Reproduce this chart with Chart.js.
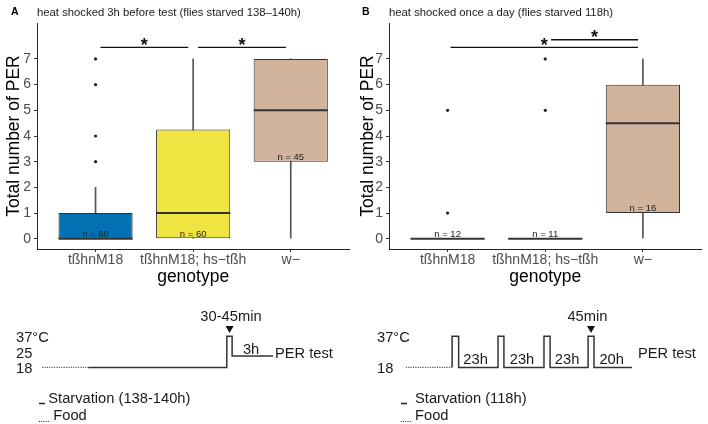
<!DOCTYPE html>
<html><head><meta charset="utf-8">
<script src="https://cdn.jsdelivr.net/npm/chart.js@4.4.1/dist/chart.umd.min.js"></script>
<style>
html,body{margin:0;padding:0;background:#fff;}
#wrap{position:relative;width:708px;height:424px;overflow:hidden;background:#fff;}
canvas{position:absolute;}
</style></head><body>
<div id="wrap">
<canvas id="boxA" width="354" height="290" style="left:0;top:0"></canvas>
<canvas id="boxB" width="354" height="290" style="left:354px;top:0"></canvas>
<canvas id="schA" width="354" height="134" style="left:0;top:290px"></canvas>
<canvas id="schB" width="354" height="134" style="left:354px;top:290px"></canvas>
</div>
<script>
const FONT = '"Liberation Sans", Arial, Helvetica, sans-serif';

// ---------- data ----------
const genotypes = ['tßhnM18', 'tßhnM18; hs\u2212tßh', 'w\u2212'];
const boxColors = ['#0072B2', '#F0E442', '#D2B49C'];
const yTicks = [0, 1, 2, 3, 4, 5, 6, 7];

// Panel A: heat shocked 3h before test
const aLower = [0, 0, 0];
const aQ1 = [0, 0, 3];
const aMedian = [0, 1, 5];
const aQ3 = [1, 4.25, 7];
const aUpper = [2, 7, 7];
const aOutliers = [[3, 4, 6, 7], [], []];
const aN = [60, 60, 45];
// significance brackets: [from, to, lineY, starY]
const aSig = [[1.05, 1.95, 7.45, 7.7], [2.05, 2.95, 7.45, 7.7]];

// Panel B: heat shocked once a day
const bLower = [0, 0, 0];
const bQ1 = [0, 0, 1];
const bMedian = [0, 0, 4.5];
const bQ3 = [0, 0, 6];
const bUpper = [0, 0, 7];
const bOutliers = [[1, 5], [5, 7], []];
const bN = [12, 11, 16];
const bSig = [[1.03, 2.95, 7.45, 7.72], [2.06, 2.95, 7.75, 8.02]];

// Schematics (schematic time units 0..100, temperature °C)
const schAFoodT = [0, 20];
const schAFoodC = [18, 18];
const schAStarvT = [20, 80, 80, 82.3, 82.3, 100];
const schAStarvC = [18, 18, 37, 37, 25, 25];
const schALevels = [18, 25, 37];

const schBFoodT = [0, 20.5];
const schBFoodC = [18, 18];
const schBStarvT = [20.5, 20.5, 23.4, 23.4, 40.8, 40.8, 43.4, 43.4, 61.1, 61.1, 63.8, 63.8, 80.6, 80.6, 83.2, 83.2, 100];
const schBStarvC = [18, 37, 37, 18, 18, 37, 37, 18, 18, 37, 37, 18, 18, 37, 37, 18, 18];
const schBLevels = [18, 37];

// ---------- box plots ----------
function boxChart(id, cfg) {
  const idx = [1, 2, 3];
  const whisk = idx.map((x, i) => ({x, y: [cfg.lower[i], cfg.upper[i]]}));
  const boxes = idx.map((x, i) => ({x, y: [cfg.q1[i], cfg.q3[i]]}));
  const outl = [];
  cfg.out.forEach((arr, i) => arr.forEach(v => outl.push({x: i + 1, y: v})));

  const extras = {
    id: 'boxExtras',
    afterDatasetsDraw(chart) {
      const {ctx} = chart;
      const x = chart.scales.x, y = chart.scales.y;
      const boxMeta = chart.getDatasetMeta(1);
      ctx.save();
      cfg.median.forEach((m, i) => {
        const el = boxMeta.data[i];
        const half = el.width / 2;
        const py = y.getPixelForValue(m);
        ctx.strokeStyle = '#333'; ctx.lineWidth = 2;
        ctx.beginPath(); ctx.moveTo(el.x - half, py); ctx.lineTo(el.x + half, py); ctx.stroke();
      });
      ctx.font = '9.5px ' + FONT; ctx.fillStyle = '#222';
      ctx.textAlign = 'center'; ctx.textBaseline = 'middle';
      cfg.n.forEach((n, i) => ctx.fillText('n = ' + n, x.getPixelForValue(i + 1), y.getPixelForValue(cfg.q1[i] + 0.18)));
      cfg.sig.forEach(s => {
        const [x0, x1, ly, sy] = s;
        ctx.strokeStyle = '#111'; ctx.lineWidth = 1.4;
        ctx.beginPath();
        ctx.moveTo(x.getPixelForValue(x0), y.getPixelForValue(ly));
        ctx.lineTo(x.getPixelForValue(x1), y.getPixelForValue(ly));
        ctx.stroke();
        ctx.font = 'bold 18px ' + FONT; ctx.fillStyle = '#111';
        ctx.textAlign = 'center'; ctx.textBaseline = 'alphabetic';
        ctx.fillText('*', x.getPixelForValue((x0 + x1) / 2), y.getPixelForValue(sy) + 0.57 * 18);
      });
      ctx.textAlign = 'left'; ctx.textBaseline = 'middle';
      ctx.fillStyle = '#000'; ctx.font = 'bold 10.5px ' + FONT;
      ctx.fillText(cfg.letter, cfg.letterX, 12.5);
      ctx.fillStyle = '#1a1a1a'; ctx.font = '11.3px ' + FONT;
      ctx.fillText(cfg.title, chart.chartArea.left, 12.5);
      ctx.restore();
    }
  };

  new Chart(document.getElementById(id), {
    type: 'bar',
    data: {
      datasets: [
        {data: whisk, backgroundColor: '#555', borderWidth: 0, barThickness: 1, grouped: false, order: 3},
        {data: boxes, backgroundColor: boxColors, borderColor: '#333', borderWidth: 1, borderSkipped: false,
         barPercentage: 0.76, categoryPercentage: 1, grouped: false, order: 2},
        {type: 'line', data: outl, showLine: false, pointRadius: 1.6, pointBackgroundColor: '#222',
         pointBorderWidth: 0, order: 1}
      ]
    },
    options: {
      responsive: false, animation: false, events: [],
      layout: {padding: {left: 0, right: cfg.padRight, top: 23, bottom: 0}},
      plugins: {legend: {display: false}, tooltip: {enabled: false}},
      scales: {
        x: {
          type: 'linear', min: 0.4, max: 3.6, offset: false,
          afterBuildTicks: s => { s.ticks = [1, 2, 3].map(v => ({value: v})); },
          ticks: {callback: v => genotypes[v - 1] || '', font: {family: FONT, size: 14}, color: '#4D4D4D',
                  padding: 0, maxRotation: 0, autoSkip: false},
          grid: {drawOnChartArea: false, drawTicks: true, tickLength: 3, color: '#333', offset: false},
          border: {display: true, color: '#222', width: 1},
          title: {display: true, text: 'genotype', font: {family: FONT, size: 17.5}, color: '#000',
                  padding: {top: 0, bottom: 2}},
          afterFit: s => { s.height = 41; }
        },
        y: {
          type: 'linear', min: -0.4, max: 8.4,
          afterBuildTicks: s => { s.ticks = yTicks.map(v => ({value: v})); },
          ticks: {font: {family: FONT, size: 14}, color: '#4D4D4D', padding: 3, autoSkip: false},
          grid: {drawOnChartArea: false, drawTicks: true, tickLength: 3, color: '#333'},
          border: {display: true, color: '#222', width: 1},
          title: {display: true, text: 'Total number of PER', font: {family: FONT, size: 17.5}, color: '#000',
                  padding: {top: 4, bottom: 0}},
          afterFit: s => { s.width = cfg.axisW; }
        }
      }
    },
    plugins: [extras]
  });
}

boxChart('boxA', {lower: aLower, q1: aQ1, median: aMedian, q3: aQ3, upper: aUpper, out: aOutliers, n: aN,
  sig: aSig, letter: 'A', letterX: 11, title: 'heat shocked 3h before test (flies starved 138\u2013140h)',
  axisW: 37, padRight: 4.7});
boxChart('boxB', {lower: bLower, q1: bQ1, median: bMedian, q3: bQ3, upper: bUpper, out: bOutliers, n: bN,
  sig: bSig, letter: 'B', letterX: 8, title: 'heat shocked once a day (flies starved 118h)',
  axisW: 35, padRight: 6.5});

// ---------- schematics ----------
function schemeChart(id, cfg) {
  const extras = {
    id: 'schemeText',
    afterDatasetsDraw(chart) {
      const {ctx} = chart;
      const x = chart.scales.x, y = chart.scales.y;
      ctx.save();
      ctx.fillStyle = '#1a1a1a'; ctx.font = '14.7px ' + FONT;
      ctx.textBaseline = 'middle';
      // temperature levels
      ctx.textAlign = 'left';
      cfg.levels.forEach(v => ctx.fillText(v === 37 ? '37°C' : String(v), cfg.levelX,
        y.getPixelForValue(v) + (v === 25 ? -1.8 : 1.3)));
      ctx.textAlign = 'center';
      cfg.labels.forEach(l => ctx.fillText(l.text, x.getPixelForValue(l.x), y.getPixelForValue(l.c)));
      ctx.textAlign = 'left';
      ctx.fillText('PER test', x.getPixelForValue(100) + cfg.perGap, y.getPixelForValue(26));
      // legend
      const L = cfg.legend;
      ctx.strokeStyle = '#222'; ctx.lineWidth = 1.5;
      ctx.beginPath(); ctx.moveTo(L.x, L.y1 + 4.5); ctx.lineTo(L.x + 6, L.y1 + 4.5); ctx.stroke();
      ctx.fillText(L.starv, L.tx1, L.y1);
      ctx.lineWidth = 1; ctx.setLineDash([1, 1.2]);
      ctx.beginPath(); ctx.moveTo(L.x, L.y2 + 5.5); ctx.lineTo(L.x + L.dotW, L.y2 + 5.5); ctx.stroke();
      ctx.setLineDash([]);
      ctx.fillText('Food', L.tx2, L.y2);
      ctx.restore();
    }
  };
  new Chart(document.getElementById(id), {
    type: 'line',
    data: {
      datasets: [
        {data: cfg.foodT.map((t, i) => ({x: t, y: cfg.foodC[i]})), borderColor: '#555', borderWidth: 1.3,
         borderDash: [1.2, 1.2], pointRadius: 0},
        {data: cfg.starvT.map((t, i) => ({x: t, y: cfg.starvC[i]})), borderColor: '#333', borderWidth: 1.5,
         pointRadius: 0},
        {data: [{x: cfg.markX, y: 41.75}], showLine: false, pointStyle: 'triangle', rotation: 180,
         pointRadius: 4.6, pointBackgroundColor: '#111', pointBorderWidth: 0, clip: false}
      ]
    },
    options: {
      responsive: false, animation: false, events: [],
      layout: {padding: {left: cfg.padLeft, right: cfg.padRight, top: 39.6, bottom: 53.3}},
      plugins: {legend: {display: false}, tooltip: {enabled: false}},
      scales: {
        x: {type: 'linear', min: 0, max: 100, display: false},
        y: {type: 'linear', min: 16, max: 41, display: false}
      }
    },
    plugins: [extras]
  });
}

schemeChart('schA', {
  foodT: schAFoodT, foodC: schAFoodC, starvT: schAStarvT, starvC: schAStarvC, levels: schALevels,
  markX: 81.2, padLeft: 42, levelX: 16, padRight: 81, perGap: 2,
  labels: [{text: '30-45min', x: 81.8, c: 48.9}, {text: '3h', x: 90.5, c: 28.6}],
  legend: {x: 39, dotW: 11, y1: 109, y2: 126, tx1: 48.3, tx2: 53.3, starv: 'Starvation (138-140h)'}
});
schemeChart('schB', {
  foodT: schBFoodT, foodC: schBFoodC, starvT: schBStarvT, starvC: schBStarvC, levels: schBLevels,
  markX: 81.9, padLeft: 51.7, levelX: 23, padRight: 76, perGap: 6,
  labels: [{text: '45min', x: 80.3, c: 48.9}, {text: '23h', x: 30.9, c: 22.3}, {text: '23h', x: 51.4, c: 22.3},
           {text: '23h', x: 71.3, c: 22.3}, {text: '20h', x: 91.0, c: 22.3}],
  legend: {x: 47, dotW: 11, y1: 109, y2: 126, tx1: 61, tx2: 61, starv: 'Starvation (118h)'}
});
</script>
</body></html>
